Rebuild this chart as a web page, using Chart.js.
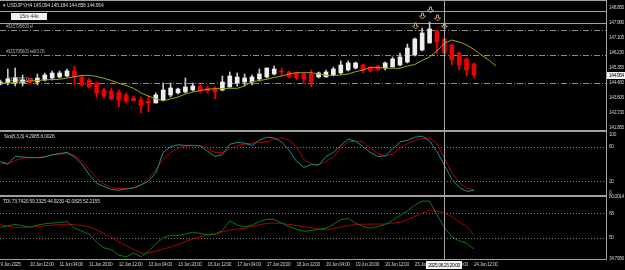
<!DOCTYPE html>
<html>
<head>
<meta charset="utf-8">
<script src="https://cdn.jsdelivr.net/npm/chart.js@4.4.1/dist/chart.umd.min.js"></script>
<style>
  html, body { margin: 0; padding: 0; background: #000; }
  #wrap { position: relative; width: 625px; height: 270px; overflow: hidden; background: #000;
          font-family: 'Liberation Sans', Arial, sans-serif; }
  canvas { position: absolute; left: 0; }
  .sep { position: absolute; left: 0; width: 607px; background: #a0a0a0; }
  .ttl { position: absolute; color: #d4d4d4; font-size: 5px; line-height: 6px; white-space: nowrap;
         letter-spacing: -0.2px; }
  #timer { position: absolute; left: 11px; top: 13px; width: 36px; height: 7px; background: #f2f2f2;
           color: #333; font-size: 5px; line-height: 7px; text-align: center; }
</style>
</head>
<body>
<div id="wrap">
  <canvas id="cMain" width="625" height="134" style="top:0"></canvas>
  <canvas id="cSto" width="625" height="71" style="top:128px"></canvas>
  <canvas id="cTdi" width="625" height="77" style="top:193px"></canvas>
  <div class="sep" style="top:0;height:1px"></div>
  <div class="sep" style="top:130px;height:2px"></div>
  <div class="sep" style="top:195px;height:2px"></div>
  <div class="ttl" style="left:3px;top:2px">&#9662; USDJPY,H4 145.094 145.184 144.858 144.954</div>
  <div id="timer">15m 44s</div>
  <div class="ttl" style="left:4px;top:133px">Sto(8,3,3) 4.2985 6.0026</div>
  <div class="ttl" style="left:3px;top:198px">TDI 73.7420 59.3325 44.9230 42.0825 52.2155</div>
</div>
<script>
// ── Data (USDJPY H4, bar 0 = 9 Jun 20:00 ... bar 64 = 24 Jun 12:00) ──
const open  = [144.422,144.481,144.481,144.481,144.714,144.539,144.656,144.772,144.830,144.889,
               145.180,144.830,144.656,144.481,144.072,144.014,143.956,143.781,143.606,143.489,
               143.431,143.314,143.489,143.781,143.897,143.956,144.072,144.306,144.189,144.189,
               144.072,144.247,144.481,144.539,144.539,144.714,144.830,145.005,145.180,145.122,
               145.064,145.005,145.005,144.830,144.830,144.947,145.064,145.239,145.355,145.530,
               145.414,145.472,145.355,145.414,145.530,145.705,146.114,146.405,146.814,147.514,
               147.047,146.697,146.230,145.880,145.589];
const high  = [144.656,145.297,145.355,144.947,144.772,145.005,145.064,145.180,145.180,145.297,
               145.472,144.947,144.772,144.539,144.189,144.189,144.072,143.897,143.722,143.664,
               143.722,143.897,144.481,144.481,144.189,144.772,144.481,144.364,144.306,144.247,
               144.889,145.122,145.064,145.005,144.947,145.297,145.355,145.472,145.355,145.180,
               145.122,145.064,145.239,145.122,145.239,145.414,145.764,145.764,145.705,145.589,
               145.414,145.500,145.705,145.997,146.230,146.755,147.105,147.689,148.039,147.572,
               147.105,146.755,146.289,145.939,145.647];
const low   = [144.364,144.364,144.306,144.306,144.422,144.364,144.597,144.656,144.772,144.830,
               144.364,144.306,144.189,143.664,143.606,143.489,143.081,143.314,143.431,142.731,
               142.789,143.314,143.431,143.664,143.839,143.897,144.014,143.897,143.897,143.547,
               144.014,144.247,144.306,144.306,144.364,144.597,144.772,144.947,144.889,144.772,
               144.656,144.481,144.247,144.772,144.830,144.889,145.005,145.180,145.297,145.064,
               145.122,145.239,145.239,145.414,145.472,145.647,146.055,146.347,146.814,146.230,
               146.172,145.530,145.239,144.889,144.772];
const close = [144.539,144.714,144.772,144.656,144.481,144.772,144.947,145.064,145.064,145.180,
               144.830,144.364,144.247,143.897,143.722,143.547,143.489,143.431,143.450,143.139,
               143.314,143.781,144.072,144.189,144.131,144.247,144.306,144.014,144.014,143.956,
               144.539,144.889,144.830,144.772,144.830,145.005,145.355,145.297,145.122,144.830,
               144.772,144.714,144.539,145.064,145.122,145.297,145.530,145.647,145.647,145.239,
               145.180,145.239,145.647,145.880,145.997,146.522,147.047,147.397,147.630,146.872,
               146.230,145.822,145.530,145.239,144.954];
// shifted moving average, runs 3 bars past the last candle
const ma    = [144.463,144.481,144.510,144.539,144.597,144.626,144.656,144.685,144.696,144.772,
               144.848,144.918,144.930,144.860,144.755,144.626,144.463,144.335,144.171,143.897,
               143.722,143.547,143.448,143.547,143.664,143.839,143.956,144.043,144.113,144.148,
               144.160,144.171,144.171,144.306,144.556,144.626,144.696,144.801,144.889,145.005,
               145.081,145.081,145.081,145.005,144.930,144.918,144.947,145.005,145.140,145.239,
               145.396,145.385,145.355,145.338,145.338,145.472,145.560,145.793,145.997,146.347,
               146.796,146.988,146.872,146.697,146.435,146.114,145.822,145.472];
const stoMain   = [54,50,63,62,61,61,62,66,68,70, 62,50,32,17,11,6,5,7,9,14,
                   20,35,70,80,83,82,82,81,72,63, 66,84,87,86,82,91,96,95,88,74,
                   55,44,49,48,63,70,82,93,89,80, 70,63,64,76,88,91,96,98,90,71,
                   48,24,10,3,4.30];
const stoSignal = [51,50,56,60,61,61,63,65,67,68, 65,55,40,25,15,9,8,8,8,14,
                   25,40,58,70,77,81,82,82,77,70, 70,76,82,84,86,87,88,93,95,91,
                   80,58,50,49,54,62,78,88,90,88, 77,68,64,67,78,85,91,94,95,85,
                   60,35,18,8,6.00];
const tdiGreen  = [57.9,59,60,59,58,59.5,60.5,61,61.5,62, 57.5,55,53,47,43,41.5,37.5,36.5,39,36.5,
                   40,46,50.3,52,52,53,54.3,53.5,52.5,53, 55.5,62.5,59.6,58.2,59.5,62,63.8,63.7,61,58.4,
                   56.5,55,55.5,56.5,57.2,60,63.5,64.3,61,58.4, 57.3,58.5,60,63,66.5,70,74,77,77,67,
                   58,51,48,46.3,42.08];
const tdiRed    = [60.1,58.5,57.8,57.8,58,58.5,59,59.5,60,60.1, 59.8,59.2,58.3,56,53.3,50.5,47.3,44.5,41.9,39,
                   39,40.5,42,43.5,45.3,47.5,49.5,51.1,52.2,53, 54.5,55.9,56.5,57.2,58.5,59.8,60.8,61,60.8,60,
                   59.3,58.6,57.5,56.5,56,57,58,59.3,59.8,60.1, 60.2,60.3,60.3,60.8,61.7,63.5,65.8,68.3,70.5,69.8,
                   68.5,65.5,62,58.4,52.22];

const priceTicks = [141.855,142.730,143.605,144.480,145.355,146.230,147.105,147.980,148.855];
const stoTicks   = [0,20,80,100];
const tdiTicks   = [34.7956,50,68,80.0014];
const stoLevels  = [20,80];
const tdiLevels  = [50,68];
const timeBars   = [0,4,8,12,16,20,24,28,32,36,40,44,48,52,56,60,64];
const timeLabels = ['9 Jun 2025','10 Jun 12:00','11 Jun 04:00','11 Jun 20:00','12 Jun 12:00',
                    '13 Jun 04:00','13 Jun 20:00','16 Jun 12:00','17 Jun 04:00','17 Jun 20:00',
                    '18 Jun 12:00','19 Jun 04:00','19 Jun 20:00','20 Jun 12:00','23 Jun 04:00',
                    '23 Jun 20:00','24 Jun 12:00'];
const hLines      = [148.70,147.96];
const orderLevels = [147.55,146.10,144.48];
const orderTexts  = ['#115795600 sl','#115795600 sell 0.05','#115795600 tp'];
const arrowBars   = [56,57,58,59,60];
const crossBar    = 60;
const crossText   = '2025.06.23 20:00';

// ── Shared settings ──────────────────────────────────────
const FONT = "'Liberation Sans',Arial,sans-serif";
const FS = 4.8, TRACK = '-0.35px';
const X_MIN = -0.054, X_MAX = 81.84;
const pts = arr => arr.map((v, i) => ({ x: i, y: v }));

function xAxis(show) {
  return {
    type: 'linear', min: X_MIN, max: X_MAX, offset: false, display: show,
    grid: { display: false, drawTicks: false },
    border: { display: show, color: '#a0a0a0' },
    ticks: {
      display: show, align: 'start', padding: 3, maxRotation: 0, autoSkip: false,
      color: '#c8c8c8', font: { size: FS, family: FONT },
      callback: (v, i) => timeLabels[i],
    },
    afterBuildTicks: s => { s.ticks = timeBars.map(v => ({ value: v })); },
    afterFit: s => { s.paddingLeft = 0; s.paddingRight = 0; if (show) s.height = 11; },
  };
}

function yAxis(min, max, ticks, fmt) {
  return {
    type: 'linear', position: 'right', min, max,
    grid: { display: false, drawTicks: false },
    border: { display: true, color: '#a0a0a0' },
    ticks: { color: '#c8c8c8', font: { size: FS, family: FONT }, padding: 3, callback: fmt },
    afterBuildTicks: s => { s.ticks = ticks.map(v => ({ value: v })); },
    afterFit: s => { s.width = 19; s.paddingTop = 0; s.paddingBottom = 0; },
  };
}

const baseOpts = {
  responsive: false, animation: false, devicePixelRatio: 1, events: [],
  plugins: { legend: { display: false }, tooltip: { enabled: false } },
};

// tight letter spacing so the tiny terminal-style labels fit
const trackPlugin = {
  id: 'track',
  beforeUpdate(chart) { chart.ctx.letterSpacing = TRACK; },
  beforeLayout(chart) { chart.ctx.letterSpacing = TRACK; },
  beforeDraw(chart)   { chart.ctx.letterSpacing = TRACK; },
};

// dotted level lines + crosshair, used by all panes
const panePlugin = {
  id: 'pane',
  beforeDatasetsDraw(chart, args, opts) {
    const { ctx, chartArea: a, scales: { y } } = chart;
    ctx.save();
    ctx.strokeStyle = '#7c7c7c'; ctx.lineWidth = 1; ctx.setLineDash([1, 2]);
    (opts.levels || []).forEach(v => {
      const py = Math.round(y.getPixelForValue(v)) + 0.5;
      ctx.beginPath(); ctx.moveTo(a.left, py); ctx.lineTo(a.right, py); ctx.stroke();
    });
    ctx.restore();
  },
  afterDatasetsDraw(chart) {
    const { ctx, chartArea: a, scales: { x } } = chart;
    const px = Math.round(x.getPixelForValue(crossBar)) + 0.5;
    ctx.save(); ctx.strokeStyle = '#a8a8a8'; ctx.lineWidth = 1;
    ctx.beginPath(); ctx.moveTo(px, a.top); ctx.lineTo(px, a.bottom); ctx.stroke();
    ctx.restore();
  },
};

// ── Main price pane ──────────────────────────────────────
const mainPlugin = {
  id: 'mainExtras',
  beforeDatasetsDraw(chart) {
    const { ctx, chartArea: a, scales: { y } } = chart;
    ctx.save();
    ctx.lineWidth = 1; ctx.strokeStyle = '#a0a0a0';
    hLines.forEach(v => {
      const py = Math.round(y.getPixelForValue(v)) + 0.5;
      ctx.beginPath(); ctx.moveTo(a.left, py); ctx.lineTo(a.right, py); ctx.stroke();
    });
    ctx.strokeStyle = '#8a8a8a'; ctx.setLineDash([6, 2, 1, 2]);
    ctx.fillStyle = '#a0a0a0'; ctx.font = `${FS}px ${FONT}`; ctx.textBaseline = 'bottom';
    orderLevels.forEach((v, i) => {
      const py = Math.round(y.getPixelForValue(v)) + 0.5;
      ctx.beginPath(); ctx.moveTo(a.left, py); ctx.lineTo(a.right, py); ctx.stroke();
      ctx.fillText(orderTexts[i], a.left + 6, py - 1);
    });
    ctx.restore();
  },
  afterDraw(chart) {
    const { ctx, chartArea: a, scales: { x, y } } = chart;
    ctx.save();
    // sell arrows above the highs
    ctx.strokeStyle = '#c4a272'; ctx.lineWidth = 1;
    arrowBars.forEach(i => {
      const cx = Math.round(x.getPixelForValue(i)) + 0.5;
      const bot = Math.round(y.getPixelForValue(high[i])) - 9;
      const top = bot - 6;
      ctx.beginPath();
      ctx.moveTo(cx - 1, top); ctx.lineTo(cx + 1, top); ctx.lineTo(cx + 1, top + 3);
      ctx.lineTo(cx + 3, top + 3); ctx.lineTo(cx, bot); ctx.lineTo(cx - 3, top + 3);
      ctx.lineTo(cx - 1, top + 3); ctx.closePath(); ctx.stroke();
    });
    // current price tag
    const last = close[close.length - 1];
    const py = Math.round(y.getPixelForValue(last));
    ctx.fillStyle = '#f4f4f4';
    ctx.fillRect(a.right + 1, py - 3, 18, 7);
    ctx.fillStyle = '#000'; ctx.font = `${FS}px ${FONT}`; ctx.textBaseline = 'middle';
    ctx.fillText(last.toFixed(3), a.right + 3, py + 0.5);
    ctx.restore();
  },
};

const bull = i => close[i] >= open[i];
const idx = open.map((_, i) => i);

new Chart(document.getElementById('cMain'), {
  type: 'bar',
  data: {
    datasets: [
      {
        type: 'line', data: pts(ma), borderColor: '#a3a312', borderWidth: 1,
        pointRadius: 0, tension: 0,
      },
      {
        data: idx.map(i => ({ x: i, y: [open[i], close[i]] })),
        backgroundColor: idx.map(i => bull(i) ? '#eeeeee' : '#f00000'),
        barThickness: 4, grouped: false, minBarLength: 1,
      },
      {
        data: idx.map(i => ({ x: i, y: [low[i], high[i]] })),
        backgroundColor: idx.map(i => bull(i) ? '#c8c8c8' : '#ff0000'),
        barThickness: 1, grouped: false,
      },
    ],
  },
  options: {
    ...baseOpts,
    layout: { padding: { top: 0, bottom: 4, left: 0, right: 0 } },
    scales: {
      x: xAxis(false),
      y: yAxis(141.7383, 149.3217, priceTicks, v => v.toFixed(3)),
    },
    plugins: { ...baseOpts.plugins, pane: { levels: [] } },
  },
  plugins: [trackPlugin, panePlugin, mainPlugin],
});

// ── Stochastic pane ──────────────────────────────────────
new Chart(document.getElementById('cSto'), {
  type: 'line',
  data: {
    datasets: [
      { data: pts(stoMain),   borderColor: '#179090', borderWidth: 1, pointRadius: 0, tension: 0 },
      { data: pts(stoSignal), borderColor: '#b00000', borderWidth: 1, pointRadius: 0, tension: 0 },
    ],
  },
  options: {
    ...baseOpts,
    layout: { padding: { top: 4, bottom: 4, left: 0, right: 0 } },
    scales: {
      x: xAxis(false),
      y: yAxis(-3.45, 105.17, stoTicks, v => String(v)),
    },
    plugins: { ...baseOpts.plugins, pane: { levels: stoLevels } },
  },
  plugins: [trackPlugin, panePlugin],
});

// ── TDI pane + time axis ─────────────────────────────────
const crossTag = {
  id: 'crossTag',
  afterDraw(chart) {
    const { ctx, chartArea: a, scales: { x } } = chart;
    const px = Math.round(x.getPixelForValue(crossBar));
    ctx.save();
    ctx.font = `${FS}px ${FONT}`;
    const w = Math.ceil(ctx.measureText(crossText).width) + 4;
    ctx.fillStyle = '#f4f4f4';
    ctx.fillRect(px - w / 2, a.bottom + 2, w, 8);
    ctx.fillStyle = '#000'; ctx.textBaseline = 'middle'; ctx.textAlign = 'center';
    ctx.fillText(crossText, px, a.bottom + 6.5);
    ctx.restore();
  },
};

new Chart(document.getElementById('cTdi'), {
  type: 'line',
  data: {
    datasets: [
      { data: pts(tdiGreen), borderColor: '#0b7a0b', borderWidth: 1, pointRadius: 0, tension: 0 },
      { data: pts(tdiRed),   borderColor: '#a80000', borderWidth: 1, pointRadius: 0, tension: 0 },
    ],
  },
  options: {
    ...baseOpts,
    layout: { padding: { top: 4, bottom: 0, left: 0, right: 0 } },
    scales: {
      x: xAxis(true),
      y: yAxis(34.7956, 80.0014, tdiTicks, v => String(v)),
    },
    plugins: { ...baseOpts.plugins, pane: { levels: tdiLevels } },
  },
  plugins: [trackPlugin, panePlugin, crossTag],
});
</script>
</body>
</html>
